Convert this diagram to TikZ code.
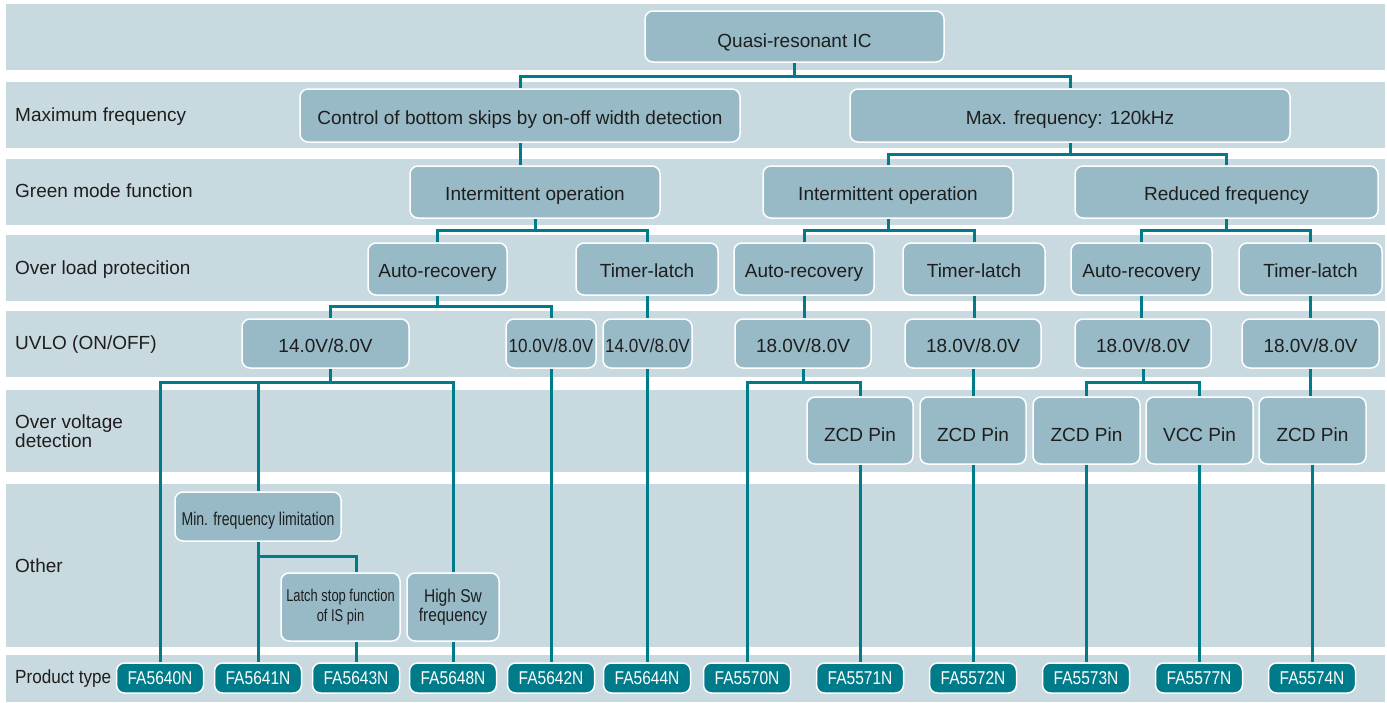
\documentclass[tikz,border=0pt]{standalone}
\usepackage{fontspec}
\setmainfont{Liberation Sans}
\newfontfamily\condA[FakeStretch=0.76]{Liberation Sans}
\newfontfamily\condB[FakeStretch=0.84]{Liberation Sans}
\newfontfamily\condC[FakeStretch=0.9]{Liberation Sans}
\usetikzlibrary{positioning}
\definecolor{bandc}{RGB}{200,217,223}
\definecolor{boxc}{RGB}{151,186,198}
\definecolor{linec}{RGB}{0,123,138}
\definecolor{txtc}{RGB}{30,30,30}
\pgfdeclarelayer{bg}
\pgfsetlayers{bg,main}

\begin{document}
\begin{tikzpicture}[x=1pt,y=-1pt,
  every node/.style={font=\fontsize{19}{19}\selectfont,text=txtc},
  lbl/.style={anchor=west,inner sep=0pt,text height=13.6pt,text depth=0pt},
  tile/.style={draw=white,line width=1.5pt,fill=boxc,rounded corners=8pt,inner sep=0pt,align=center},
  box/.style={tile,text height=17.6pt,text depth=0pt},
  prod/.style={draw=white,line width=1.5pt,fill=linec,rounded corners=8pt,inner sep=0pt,
    minimum width=87pt,minimum height=30pt,text height=13.3pt,text depth=0pt,
    text=white,font=\condB\fontsize{18.5}{18.5}\selectfont},
  link/.style={draw=linec,line width=3pt}]
  \useasboundingbox (0,0) rectangle (1387,702);

  % rows
  \begin{pgfonlayer}{bg}
    \foreach \ya/\yb in {4/70,82/148,159/225,235/301,311/377,390/472,484/647,655/702}
      \fill[bandc] (6,\ya) rectangle (1385,\yb);
  \end{pgfonlayer}
  \node[lbl] (lmax) at (15,115) {Maximum frequency};
  \node[lbl] (lgreen) at (15,191) {Green mode function};
  \node[lbl] (lolp) at (15,268) {Over load protecition};
  \node[lbl] (luvlo) at (15,343) {UVLO (ON/OFF)};
  \node[anchor=west,align=left,inner sep=0pt] (lovp) at (15,431) {Over voltage\\detection};
  \node[lbl] (lother) at (15,566) {Other};
  \node[lbl,font=\condC\fontsize{19}{19}\selectfont] (lprod) at (15,677) {Product type};

  % tree
  \node[box,text height=21.6pt,minimum width=299pt,minimum height=51pt] (qr) at (794.5,36.5) {Quasi-resonant IC};
  \node[box,minimum width=440pt,minimum height=53pt] (ctrl) at (520,115.5) {Control of bottom skips by on-off width detection};
  \node[box,minimum width=440pt,minimum height=53pt] (maxf) at (1070,115.5) {Max. frequency: 120kHz};
  \node[box,minimum width=250pt,minimum height=52pt] (int1) at (535,192) {Intermittent operation};
  \node[box,minimum width=250pt,minimum height=52pt] (int2) at (888,192) {Intermittent operation};
  \node[box,minimum width=303pt,minimum height=52pt] (redf) at (1226.5,192) {Reduced frequency};

  \node[box,minimum width=139pt,minimum height=52pt] (ar1) at (437.5,269) {Auto-recovery};
  \node[box,minimum width=142pt,minimum height=52pt] (tl1) at (647,269) {Timer-latch};
  \node[box,minimum width=140pt,minimum height=52pt] (ar2) at (804,269) {Auto-recovery};
  \node[box,minimum width=142pt,minimum height=52pt] (tl2) at (974,269) {Timer-latch};
  \node[box,minimum width=141pt,minimum height=52pt] (ar3) at (1141.5,269) {Auto-recovery};
  \node[box,minimum width=143pt,minimum height=52pt] (tl3) at (1310.5,269) {Timer-latch};

  \node[box,minimum width=167pt,minimum height=49pt] (u14a) at (325.5,343.5) {14.0V/8.0V};
  \node[box,minimum width=90pt,minimum height=49pt,font=\condC\fontsize{19}{19}\selectfont] (u10) at (551,343.5) {10.0V/8.0V};
  \node[box,minimum width=89pt,minimum height=49pt,font=\condC\fontsize{19}{19}\selectfont] (u14b) at (647.5,343.5) {14.0V/8.0V};
  \node[box,minimum width=136pt,minimum height=49pt] (u18a) at (803,343.5) {18.0V/8.0V};
  \node[box,minimum width=136pt,minimum height=49pt] (u18b) at (973,343.5) {18.0V/8.0V};
  \node[box,minimum width=136pt,minimum height=49pt] (u18c) at (1143,343.5) {18.0V/8.0V};
  \node[box,minimum width=137pt,minimum height=49pt] (u18d) at (1310.5,343.5) {18.0V/8.0V};

  \node[box,text height=21.6pt,minimum width=106pt,minimum height=67pt] (zcd1) at (860,430.5) {ZCD Pin};
  \node[box,text height=21.6pt,minimum width=106pt,minimum height=67pt] (zcd2) at (973,430.5) {ZCD Pin};
  \node[box,text height=21.6pt,minimum width=107pt,minimum height=67pt] (zcd3) at (1086.5,430.5) {ZCD Pin};
  \node[box,text height=21.6pt,minimum width=107pt,minimum height=67pt] (vcc) at (1199.5,430.5) {VCC Pin};
  \node[box,text height=21.6pt,minimum width=107pt,minimum height=67pt] (zcd4) at (1312.5,430.5) {ZCD Pin};

  \node[box,minimum width=166pt,minimum height=49pt,font=\condA\fontsize{18.5}{18.5}\selectfont] (minf) at (258,516.5) {Min. frequency limitation};
  \node[tile,minimum width=119pt,minimum height=68pt,font=\condA\fontsize{17}{19.5}\selectfont] (latch) at (340.5,607) {Latch stop function\\of IS pin};
  \node[tile,minimum width=92pt,minimum height=68pt,font=\condB\fontsize{18.5}{19.5}\selectfont] (highsw) at (453,607) {High Sw\\frequency};

  % products
  \node[prod] (p40) at (160,678) {FA5640N};
  \node[prod] (p41) at (258,678) {FA5641N};
  \node[prod] (p43) at (356,678) {FA5643N};
  \node[prod] (p48) at (453,678) {FA5648N};
  \node[prod] (p42) at (551,678) {FA5642N};
  \node[prod] (p44) at (647,678) {FA5644N};
  \node[prod] (p70) at (747,678) {FA5570N};
  \node[prod] (p71) at (860,678) {FA5571N};
  \node[prod] (p72) at (973,678) {FA5572N};
  \node[prod] (p73) at (1086,678) {FA5573N};
  \node[prod] (p77) at (1199,678) {FA5577N};
  \node[prod] (p74) at (1312,678) {FA5574N};

  % connectors
  \begin{pgfonlayer}{bg}
    \draw[link] (qr.south) -- ++(0,14) coordinate (j0);
    \draw[link] (ctrl.north) |- (j0) -| (maxf.north);
    \draw[link] (ctrl.south) -- (ctrl.south |- int1.north);
    \draw[link] (maxf.south) -- ++(0,12) coordinate (j1);
    \draw[link] (int2.north) |- (j1) -| (redf.north);

    \draw[link] (int1.south) -- ++(0,12) coordinate (j2);
    \draw[link] (ar1.north) |- (j2) -| (tl1.north);
    \draw[link] (int2.south) -- ++(0,12) coordinate (j3);
    \draw[link] (ar2.north) |- (j3) -| (tl2.north);
    \draw[link] (redf.south) -- ++(0,12) coordinate (j4);
    \draw[link] (ar3.north) |- (j4) -| (tl3.north);

    \draw[link] (ar1.south) -- ++(0,11) coordinate (j5);
    \draw[link] ([xshift=4.5pt]u14a.north) |- (j5) -| (u10.north);
    \draw[link] (tl1.south) -- (tl1.south |- u14b.north);
    \draw[link] (ar2.south) -- (ar2.south |- u18a.north);
    \draw[link] (tl2.south) -- (tl2.south |- u18b.north);
    \draw[link] (ar3.south) -- (ar3.south |- u18c.north);
    \draw[link] (tl3.south) -- (tl3.south |- u18d.north);

    \draw[link] ([xshift=4.5pt]u14a.south) -- ++(0,14) coordinate (j6);
    \draw[link] (p40.north) |- (j6) -| (highsw.north);
    \draw[link] (minf.north) -- (minf.north |- j6);
    \draw[link] (minf.south) -- (p41.north);
    \path (minf.south) ++(0,15) coordinate (j7);
    \draw[link] (j7) -| (p43.north |- latch.north);
    \draw[link] (p43.north |- latch.south) -- (p43.north);
    \draw[link] (highsw.south) -- (p48.north);
    \draw[link] (u10.south) -- (u10.south |- p42.north);
    \draw[link] (u14b.south) -- (u14b.south |- p44.north);

    \draw[link] (u18a.south) -- ++(0,14) coordinate (j8);
    \draw[link] (p70.north) |- (j8) -| (zcd1.north);
    \draw[link] (zcd1.south) -- (p71.north);
    \draw[link] (u18b.south) -- (u18b.south |- zcd2.north);
    \draw[link] (zcd2.south) -- (p72.north);
    \draw[link] (u18c.south) -- ++(0,14) coordinate (j9);
    \draw[link] (zcd3.north) |- (j9) -| (vcc.north);
    \draw[link] (zcd3.south) -- (zcd3.south |- p73.north);
    \draw[link] (vcc.south) -- (vcc.south |- p77.north);
    \draw[link] (u18d.south) -- (u18d.south |- zcd4.north);
    \draw[link] (zcd4.south) -- (zcd4.south |- p74.north);
  \end{pgfonlayer}
\end{tikzpicture}
\end{document}
